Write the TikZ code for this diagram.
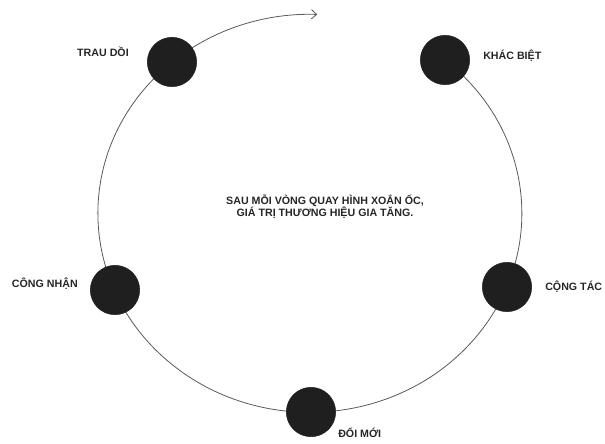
\documentclass[tikz,border=0pt]{standalone}
\usepackage{fontspec}
\setmainfont{Liberation Sans}
\usetikzlibrary{arrows.meta,backgrounds}
\tikzset{
  % --- stages on the spiral ---------------------------------------------------
  stage/.style={circle,draw=black!88,fill=black!88,minimum size=37pt,
                inner sep=0pt},
  % --- texts ------------------------------------------------------------------
  lab/.style={font=\bfseries\fontsize{8}{9}\selectfont,text=black!85,
              inner sep=0pt},
  % --- spiral line ------------------------------------------------------------
  spiral/.style={black!65,line width=0.6pt},
}

\begin{document}
\begin{tikzpicture}[x=0.75pt, y=-0.75pt]
  \useasboundingbox (0,0) rectangle (605,443);

  \node[stage] (kb) at (445,60)  {};
  \node[stage] (ct) at (507,287) {};
  \node[stage] (dm) at (311,412) {};
  \node[stage] (cn) at (115,290) {};
  \node[stage] (td) at (172,62)  {};

  \node[lab,anchor=west] (kbl) at (483,56)  {KHÁC BIỆT};
  \node[lab,anchor=west] (ctl) at (545,287) {CỘNG TÁC};
  \node[lab,anchor=west] (dml) at (338,433) {ĐỔI MỚI};
  \node[lab,anchor=east] (cnl) at (78,284)  {CÔNG NHẬN};
  \node[lab,anchor=east] (tdl) at (129,52)  {TRAU DỒI};

  \node[lab,align=center] (msg) at (325,207)
    {SAU MỖI VÒNG QUAY HÌNH XOẮN ỐC,\\GIÁ TRỊ THƯƠNG HIỆU GIA TĂNG.};

  \begin{scope}[on background layer]
    \draw[spiral,-{Straight Barb[length=4pt,width=7pt]}] (kb.center)
      arc[start angle=50.4, end angle=-272, x radius=159pt, y radius=149.25pt];
  \end{scope}
\end{tikzpicture}
\end{document}
